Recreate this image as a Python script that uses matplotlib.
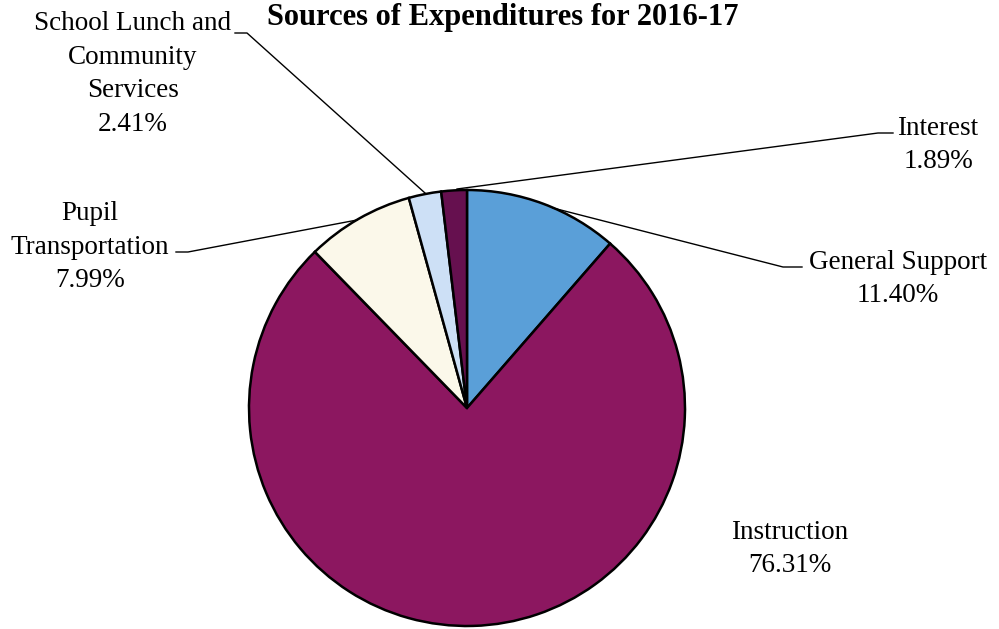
import matplotlib.pyplot as plt

labels = ['General Support', 'Instruction', 'Pupil\nTransportation',
          'School Lunch and\nCommunity\nServices', 'Interest']
shares = [11.40, 76.31, 7.99, 2.41, 1.89]
colors = ['#5a9fd8', '#8c1760', '#fbf8ea', '#cde0f6', '#66104f']

plt.rcParams['font.family'] = ['Liberation Serif', 'DejaVu Serif']

fig = plt.figure(figsize=(9.99, 6.29), dpi=100)
ax = fig.add_axes([0, 0, 1, 1])

# pie drawn in pixel space, y flipped so counterclockwise in data = clockwise on screen
wedges, _ = ax.pie(shares, colors=colors, startangle=-90, counterclock=True,
                   center=(467, 408), radius=218, frame=True,
                   wedgeprops=dict(edgecolor='black', linewidth=1.8))
ax.set_xlim(0, 999)
ax.set_ylim(629, 0)
ax.set_aspect('equal')
ax.axis('off')

ax.text(503, 17, 'Sources of Expenditures for 2016-17', ha='center', va='center',
        fontsize=22, fontweight='bold')

fs = 19.5
ls = 1.45

def label(x, y, i):
    ax.text(x, y, labels[i] + '\n%.2f%%' % shares[i], ha='center', va='center',
            fontsize=fs, linespacing=ls)

label(133, 74, 3)
ax.plot([235, 247, 425], [33, 33, 193], color='black', lw=1)

label(90, 247, 2)
ax.plot([176, 188, 357], [252, 252, 220], color='black', lw=1)

label(938, 145, 4)
ax.plot([893, 878, 457], [133, 133, 189], color='black', lw=1)

label(898, 279, 0)
ax.plot([553, 783, 802], [208, 267, 267], color='black', lw=1)

label(790, 549, 1)

fig.savefig('out.png', dpi=100)
